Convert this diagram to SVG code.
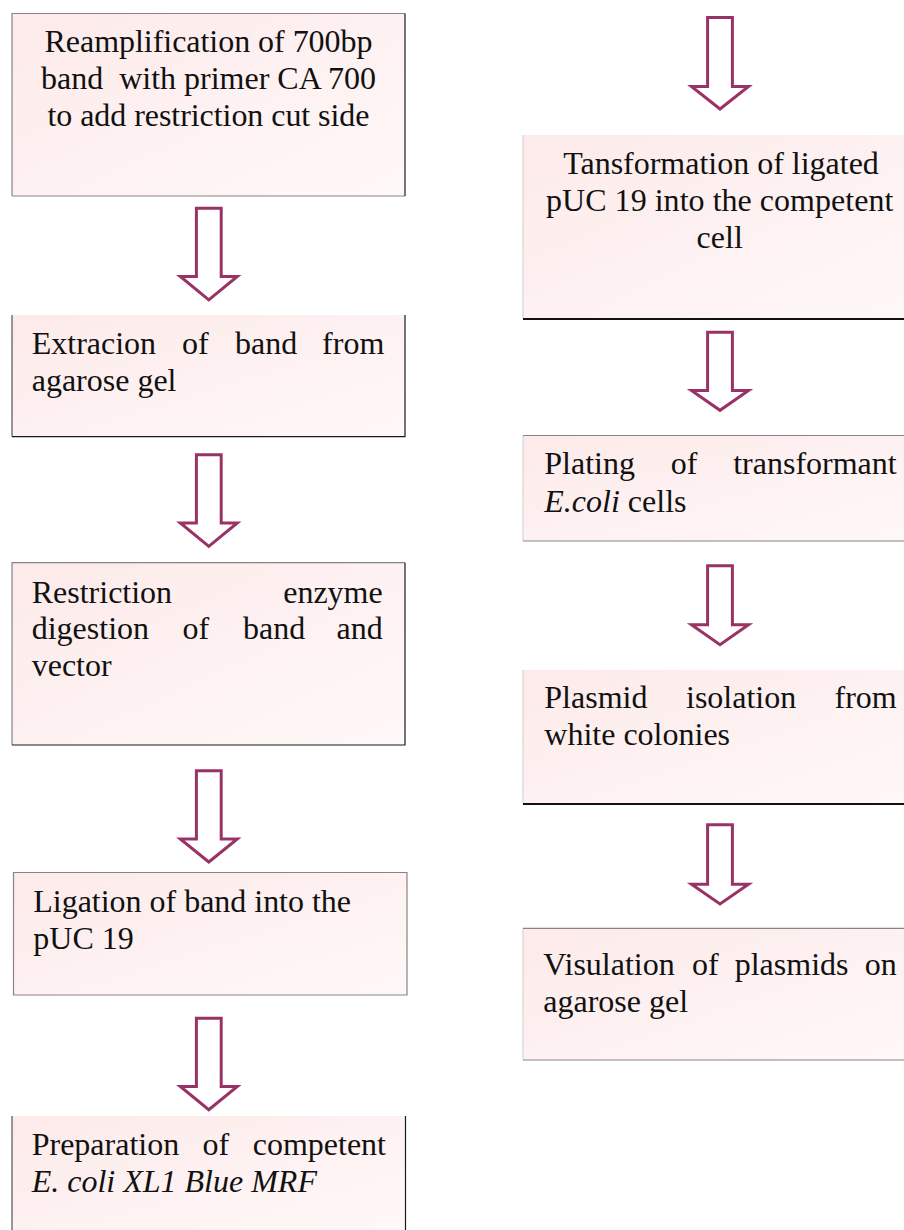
<svg xmlns="http://www.w3.org/2000/svg" width="904" height="1230" viewBox="0 0 904 1230">
<defs>
<linearGradient id="g" x1="0" y1="0" x2="1" y2="1">
<stop offset="0" stop-color="#fdeaea"/>
<stop offset="1" stop-color="#fff8f8"/>
</linearGradient>
<style>
.box{fill:url(#g);stroke:none}
.eg{stroke:#858585;stroke-width:1.2;fill:none}
.em{stroke:#555;stroke-width:1.2;fill:none}
.ed{stroke:#1a1a1a;stroke-width:1.2;fill:none}
.eb{stroke:#111;stroke-width:2.2;fill:none}
.el{stroke:#d6d6d6;stroke-width:1.2;fill:none}
.t{font-family:"Liberation Serif","Times New Roman",serif;font-size:32px;fill:#111}
.c{text-anchor:middle}
.e{text-anchor:end}
.i{font-style:italic}
.arrow{fill:#fff;stroke:#993366;stroke-width:3;stroke-linejoin:miter}
</style>
</defs>
<rect width="904" height="1230" fill="#fff"/>

<g id="node-reamplification">
<rect class="box" x="12" y="13.5" width="393" height="182.5"/>
<path class="eg" d="M12 196V13.5H405M12 196H405"/>
<path class="ed" d="M405 13.5V196"/>
<text class="t c" x="208.5" y="52.3" textLength="328" lengthAdjust="spacing">Reamplification of 700bp</text>
<text class="t c" x="208.5" y="89.3" textLength="335" lengthAdjust="spacing" xml:space="preserve">band  with primer CA 700</text>
<text class="t c" x="208.5" y="126" textLength="322" lengthAdjust="spacing">to add restriction cut side</text>
</g>

<g id="node-extraction">
<rect class="box" x="12" y="315" width="393" height="121.7"/>
<path class="em" d="M12 315V436.7"/>
<path class="ed" d="M405 315V436.7H12"/>
<text class="t" y="354.3"><tspan x="31.7">Extracion</tspan><tspan x="182">of</tspan><tspan x="235">band</tspan><tspan x="384.3" class="e">from</tspan></text>
<text class="t" x="31.7" y="391">agarose gel</text>
</g>

<g id="node-restriction">
<rect class="box" x="12" y="562.7" width="393" height="182.3"/>
<path class="eg" d="M12 745V562.7H405"/>
<path class="ed" d="M405 562.7V745H12"/>
<text class="t" y="603.3"><tspan x="31.7">Restriction</tspan><tspan x="382.7" class="e">enzyme</tspan></text>
<text class="t" y="639.3"><tspan x="31.7">digestion</tspan><tspan x="182.5">of</tspan><tspan x="243">band</tspan><tspan x="382.7" class="e">and</tspan></text>
<text class="t" x="31.7" y="675.7">vector</text>
</g>

<g id="node-ligation">
<rect class="box" x="13.5" y="872.5" width="393.5" height="122.5"/>
<path class="eg" d="M13.5 872.5H407V995H13.5Z"/>
<text class="t" x="33.3" y="912.3" textLength="317.7" lengthAdjust="spacing">Ligation of band into the</text>
<text class="t" x="33.3" y="949.3">pUC 19</text>
</g>

<g id="node-preparation">
<rect class="box" x="12" y="1116" width="393.5" height="116"/>
<path class="em" d="M12 1116V1231"/>
<path class="ed" d="M405.5 1116V1231"/>
<text class="t" y="1155"><tspan x="31.7">Preparation</tspan><tspan x="202.6">of</tspan><tspan x="386" class="e">competent</tspan></text>
<text class="t i" x="31.7" y="1191.7">E. coli XL1 Blue MRF</text>
</g>

<g id="node-transformation">
<rect class="box" x="523" y="135" width="395" height="184"/>
<path class="el" d="M523 135V319"/>
<path class="eb" d="M523 319H905"/>
<text class="t c" x="721" y="174.3" textLength="315.7" lengthAdjust="spacing">Tansformation of ligated</text>
<text class="t c" x="719.7" y="211" textLength="347.3" lengthAdjust="spacing">pUC 19 into the competent</text>
<text class="t c" x="719.7" y="248.3">cell</text>
</g>

<g id="node-plating">
<rect class="box" x="523" y="435.5" width="395" height="105.5"/>
<path class="el" d="M523 435.5V541"/>
<path class="eg" d="M523 435.5H905M523 541H905"/>
<text class="t" y="474.3"><tspan x="544.3">Plating</tspan><tspan x="670.7">of</tspan><tspan x="896.7" class="e">transformant</tspan></text>
<text class="t" x="544.3" y="511.7"><tspan class="i">E.coli</tspan> cells</text>
</g>

<g id="node-plasmid-isolation">
<rect class="box" x="523" y="670" width="395" height="134"/>
<path class="el" d="M523 670V804"/>
<path class="eb" d="M523 804H905"/>
<text class="t" y="708.3"><tspan x="544.3">Plasmid</tspan><tspan x="686">isolation</tspan><tspan x="896.7" class="e">from</tspan></text>
<text class="t" x="544.3" y="745">white colonies</text>
</g>

<g id="node-visualisation">
<rect class="box" x="523" y="928.3" width="395" height="131.7"/>
<path class="el" d="M523 928.3V1060"/>
<path class="eg" d="M523 928.3H905M523 1060H905"/>
<text class="t" y="975"><tspan x="543.3">Visulation</tspan><tspan x="692">of</tspan><tspan x="734.7">plasmids</tspan><tspan x="896.7" class="e">on</tspan></text>
<text class="t" x="543.3" y="1011.7">agarose gel</text>
</g>

<g id="connectors">
<path class="arrow" d="M196.4 208.2H221.2V276.5H237.3L208.8 299.8L180.3 276.5H196.4Z"/>
<path class="arrow" d="M196.4 454.8H221.2V523H237.3L208.8 546.3L180.3 523H196.4Z"/>
<path class="arrow" d="M196.4 770.8H221.2V839H237.3L208.8 862L180.3 839H196.4Z"/>
<path class="arrow" d="M196.4 1018.2H221.2V1086.5H237.3L208.8 1109.7L180.3 1086.5H196.4Z"/>
<path class="arrow" d="M707.6 17.5H732.4V86.5H748.5L720 109L691.5 86.5H707.6Z"/>
<path class="arrow" d="M707.6 332.2H732.4V390.5H748.5L720 410.3L691.5 390.5H707.6Z"/>
<path class="arrow" d="M707.6 565.8H732.4V624.8H748.5L720 644.7L691.5 624.8H707.6Z"/>
<path class="arrow" d="M707.6 824.8H732.4V884.2H748.5L720 904L691.5 884.2H707.6Z"/>
</g>
</svg>
